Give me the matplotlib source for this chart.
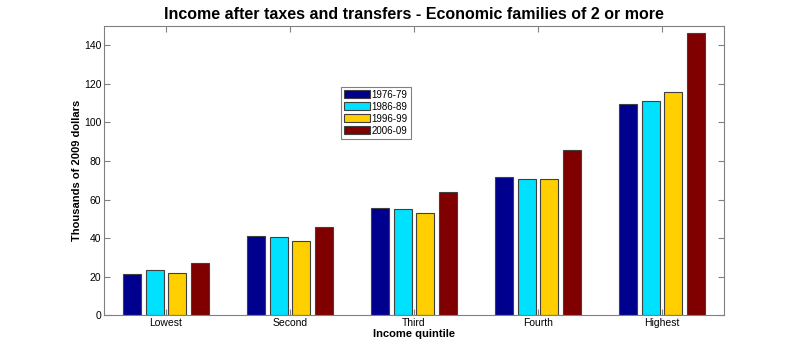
import numpy as np
import matplotlib.pyplot as plt

plt.rcParams['font.family'] = ['Liberation Sans', 'DejaVu Sans']

quintiles = ["Lowest", "Second", "Third", "Fourth", "Highest"]
periods = ["1976-79", "1986-89", "1996-99", "2006-09"]
v1976 = [21.3, 41.3, 55.7, 71.5, 109.7]
v1986 = [23.2, 40.7, 55.0, 70.9, 111.4]
v1996 = [21.6, 38.3, 52.9, 70.4, 115.7]
v2006 = [26.8, 45.9, 63.7, 85.5, 146.5]
series = [v1976, v1986, v1996, v2006]
colors = ['#00008f', '#00e1ff', '#ffcf00', '#800000']

fig = plt.figure(figsize=(8, 3.54), dpi=100)
ax = fig.add_axes([0.13, 0.11, 0.775, 0.816])

x = np.arange(1, len(quintiles) + 1)
step = 0.185
width = 0.145
for i, (vals, col, lab) in enumerate(zip(series, colors, periods)):
    ax.bar(x + (i - 1.5) * step, vals, width=width, color=col,
           edgecolor='#404040', linewidth=0.8, label=lab)

ax.set_xlim(0.5, 5.5)
ax.set_ylim(0, 150)
ax.set_yticks(np.arange(0, 141, 20))
ax.set_xticks(x)
ax.set_xticklabels(quintiles)
ax.tick_params(direction='in', top=True, right=True, length=4,
               color='#808080', labelsize=7.5, pad=2)
for s in ax.spines.values():
    s.set_color('#808080')

ax.set_xlabel("Income quintile", fontsize=8, fontweight='bold', labelpad=1)
ax.set_ylabel("Thousands of 2009 dollars", fontsize=8, fontweight='bold', labelpad=1)
ax.set_title("Income after taxes and transfers - Economic families of 2 or more",
             fontsize=11.5, fontweight='bold', pad=5)

leg = ax.legend(loc='upper left', bbox_to_anchor=(0.383, 0.79), fontsize=7,
                fancybox=False, framealpha=1, edgecolor='#808080',
                handlelength=2.6, handleheight=0.9, handletextpad=0.2,
                borderpad=0.3, labelspacing=0.2, borderaxespad=0)
leg.get_frame().set_linewidth(0.8)

plt.savefig("out.png", dpi=100)
